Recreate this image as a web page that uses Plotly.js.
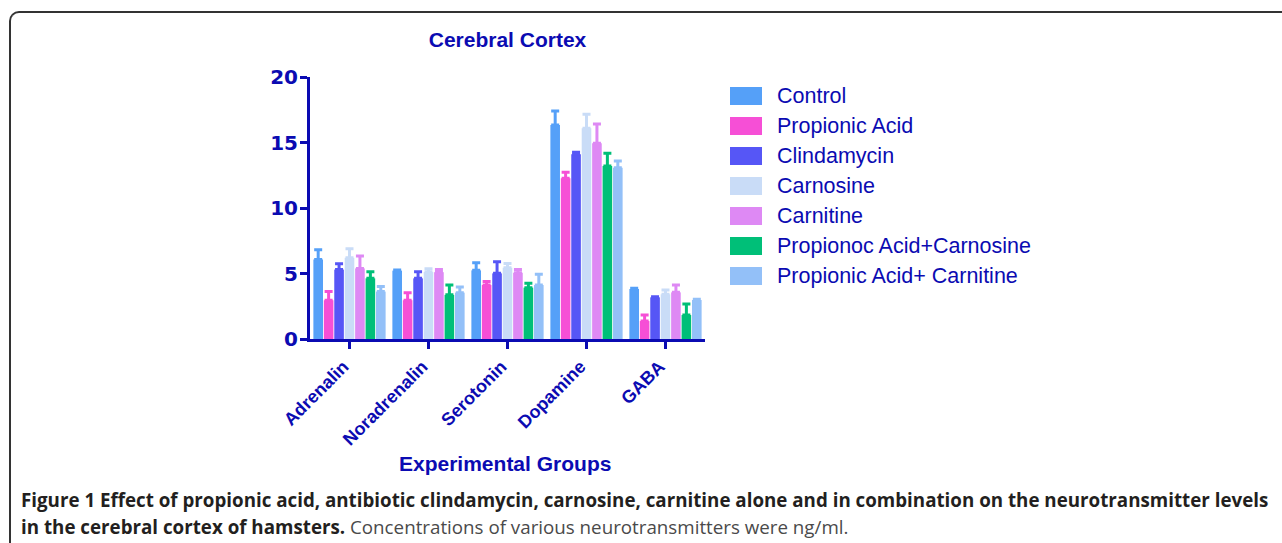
<!DOCTYPE html>
<html>
<head>
<meta charset="utf-8">
<script src="https://cdn.plot.ly/plotly-3.0.1.min.js"></script>
<style>
  html, body { margin: 0; padding: 0; background: #fff; overflow: hidden; }
  #wrap { position: relative; width: 1282px; height: 543px; }
  #frame { position: absolute; left: 9px; top: 11px; width: 1400px; height: 700px;
           border-top: 2px solid #333; border-left: 2px solid #333; border-top-left-radius: 10px; }
  #chart { position: absolute; left: 0; top: 0; width: 1282px; height: 543px; }
</style>
</head>
<body>
<div id="wrap">
  <div id="frame"></div>
  <div id="chart"></div>
</div>
<script>
const categories = ['Adrenalin', 'Noradrenalin', 'Serotonin', 'Dopamine', 'GABA'];

const seriesNames = ['Control', 'Propionic Acid', 'Clindamycin', 'Carnosine', 'Carnitine',
                     'Propionoc Acid+Carnosine', 'Propionic Acid+ Carnitine'];

const control        = [6.07, 5.22, 5.24, 16.34, 3.82];
const controlErr     = [0.75, 0.05, 0.58, 1.06, 0.05];
const propionic      = [2.96, 2.96, 4.12, 12.27, 1.37];
const propionicErr   = [0.66, 0.58, 0.26, 0.45, 0.46];
const clindamycin    = [5.30, 4.63, 5.01, 14.10, 3.18];
const clindamycinErr = [0.45, 0.51, 0.89, 0.15, 0.05];
const carnosine      = [6.20, 5.11, 5.44, 16.08, 3.41];
const carnosineErr   = [0.69, 0.26, 0.33, 1.07, 0.33];
const carnitine      = [5.39, 5.10, 5.06, 14.94, 3.56];
const carnitineErr   = [0.94, 0.20, 0.24, 1.47, 0.56];
const paCarnosine    = [4.63, 3.37, 3.92, 13.20, 1.83];
const paCarnosineErr = [0.51, 0.75, 0.33, 0.98, 0.84];
const paCarnitine    = [3.62, 3.54, 4.12, 13.08, 2.98];
const paCarnitineErr = [0.38, 0.43, 0.82, 0.51, 0.05];

const seriesValues = [control, propionic, clindamycin, carnosine, carnitine, paCarnosine, paCarnitine];
const seriesErrors = [controlErr, propionicErr, clindamycinErr, carnosineErr, carnitineErr, paCarnosineErr, paCarnitineErr];
const colors = ['#55a0f8', '#f64fd6', '#5656f6', '#c9dcf7', '#de89f4', '#00bf78', '#93c0f8'];

const navy = '#0b0bb2';
const W = 1282, H = 543;
const L = 310, R = 705, T = 77, B = 339;
const px = x => (x - L) / (R - L);
const py = y => (B - y) / (B - T);
const arial = 'Liberation Sans, Arial, sans-serif';

const traces = seriesNames.map((name, i) => ({
  type: 'bar',
  name: name,
  x: categories,
  y: seriesValues[i],
  showlegend: false,
  marker: { color: colors[i], line: { width: 0 } },
  error_y: {
    type: 'data', symmetric: false,
    array: seriesErrors[i],
    arrayminus: seriesErrors[i].map(() => 0),
    color: colors[i], thickness: 3, width: 4
  }
}));

// legend: swatch + label for each series
const legendTop = 96, legendStep = 30;
const legendShapes = seriesNames.map((name, i) => ({
  type: 'rect', xref: 'paper', yref: 'paper',
  x0: px(730), x1: px(762),
  y0: py(legendTop + i * legendStep - 9), y1: py(legendTop + i * legendStep + 9),
  fillcolor: colors[i], line: { width: 0 }, layer: 'above'
}));
const legendLabels = seriesNames.map((name, i) => ({
  xref: 'paper', yref: 'paper', x: px(775), y: py(legendTop + i * legendStep),
  xanchor: 'left', yanchor: 'middle', showarrow: false,
  text: name, font: { size: 21.5, color: navy, family: arial }
}));

const layout = {
  width: W, height: H,
  margin: { l: L, r: W - R, t: T, b: H - B, pad: 0 },
  paper_bgcolor: 'rgba(0,0,0,0)',
  plot_bgcolor: 'rgba(0,0,0,0)',
  font: { family: arial, color: navy },
  barmode: 'group',
  bargap: 0.075,
  bargroupgap: 0.08,
  showlegend: false,
  title: {
    text: '<b>Cerebral Cortex</b>',
    font: { size: 21, color: navy, family: arial },
    x: 0.5 * (L + R) / W, xanchor: 'center',
    y: 1 - 40 / H, yanchor: 'middle'
  },
  xaxis: {
    type: 'category',
    range: [-0.5, 4.5],
    showline: true, linecolor: navy, linewidth: 3,
    ticks: 'outside', ticklen: 7, tickwidth: 3, tickcolor: navy,
    tickangle: -45,
    ticklabelshift: -6,
    tickfont: { size: 18, color: navy, weight: 'bold', family: arial },
    showgrid: false, zeroline: false,
    fixedrange: true
  },
  yaxis: {
    range: [0, 20],
    tickvals: [0, 5, 10, 15, 20],
    showline: true, linecolor: navy, linewidth: 3,
    ticks: 'outside', ticklen: 7, tickwidth: 3, tickcolor: navy,
    ticklabelstandoff: -2,
    tickfont: { size: 20, color: navy, weight: 'bold', family: 'DejaVu Sans, sans-serif' },
    showgrid: false, zeroline: false,
    fixedrange: true
  },
  shapes: legendShapes,
  annotations: legendLabels.concat([
    {
      xref: 'paper', yref: 'paper', x: px(505), y: py(463),
      xanchor: 'center', yanchor: 'middle', showarrow: false,
      text: '<b>Experimental Groups</b>',
      font: { size: 21, color: navy, family: arial }
    },
    {
      xref: 'paper', yref: 'paper', x: px(19), y: py(499),
      xanchor: 'left', yanchor: 'middle', showarrow: false,
      text: '<b>Figure 1 Effect of propionic acid, antibiotic clindamycin, carnosine, carnitine alone and in combination on the neurotransmitter levels</b>',
      font: { size: 18.75, color: '#231f20', family: 'Open Sans, Noto Sans, sans-serif' }
    },
    {
      xref: 'paper', yref: 'paper', x: px(19), y: py(526),
      xanchor: 'left', yanchor: 'middle', showarrow: false,
      text: '<b>in the cerebral cortex of hamsters.</b> <span style="color:#4a4a4a">Concentrations of various neurotransmitters were ng/ml.</span>',
      font: { size: 18.75, color: '#231f20', family: 'Open Sans, Noto Sans, sans-serif' }
    }
  ])
};

Plotly.newPlot('chart', traces, layout, { displayModeBar: false, staticPlot: true });
</script>
</body>
</html>
